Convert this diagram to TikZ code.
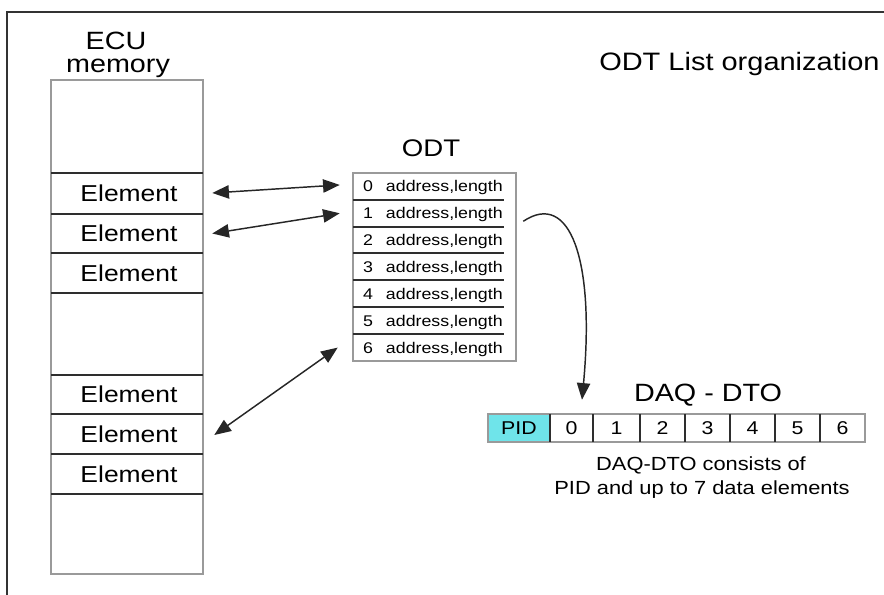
\documentclass[tikz,border=0pt]{standalone}
\usepackage{fontspec}
\setmainfont{Liberation Sans}[FakeStretch=1.15]
\usetikzlibrary{arrows.meta,calc}

\definecolor{framegray}{HTML}{333333}
\definecolor{boxgray}{HTML}{9A9A9A}
\definecolor{rulegray}{HTML}{2E2E2E}
\definecolor{pidcyan}{HTML}{6FE4EA}

\newcommand\pxfont[1]{\fontsize{#1}{#1}\selectfont}

\begin{document}
\begin{tikzpicture}[x=0.75pt,y=-0.75pt,
  outerbox/.style={draw=boxgray,line width=1.1pt,inner sep=0pt},
  divider/.style={draw=rulegray,line width=1.2pt},
  elemcell/.style={minimum width=114pt,minimum height=30pt,inner sep=0pt,
    text height=12.35pt,text depth=0pt,font=\pxfont{17.25pt}},
  odtrow/.style={minimum width=122.25pt,minimum height=20.14pt,inner sep=0pt,
    text height=8.3pt,text depth=0pt,font=\pxfont{11.6pt}},
  daqcell/.style={minimum width=32.25pt,minimum height=21pt,inner sep=0pt,
    text height=9.95pt,text depth=0pt,font=\pxfont{13.9pt}},
  conn/.style={draw=black!85,line width=1.1pt},
  tip/.tip={Triangle[length=12.5pt,width=10pt]}
]
\useasboundingbox (0,0) rectangle (884,595);

% outer frame (only its top and left edges lie inside the page)
\draw[framegray,line width=1.8pt] (7,610) -- (7,12) -- (900,12);

% title
\node[anchor=base west,inner sep=0pt,font=\pxfont{18.9pt}] (title) at (599,70.7) {ODT List organization};

% ECU memory column
\node[anchor=base,inner sep=0pt,font=\pxfont{18.75pt}] (ecuA) at (116,50) {ECU};
\node[anchor=base,inner sep=0pt,font=\pxfont{18.75pt}] (ecuB) at (118,73) {memory};
\node[outerbox,minimum width=114pt,minimum height=370.5pt] (ecu) at (127,327) {};
\foreach \y in {173,214,253,293,375,414,454,494}
  \draw[divider] (51,\y) -- (203,\y);
\node[elemcell] (e1) at (129,193.5) {Element};
\node[elemcell] (e2) at (129,233.5) {Element};
\node[elemcell] (e3) at (129,273) {Element};
\node[elemcell] (e4) at (129,394.5) {Element};
\node[elemcell] (e5) at (129,434) {Element};
\node[elemcell] (e6) at (129,474) {Element};

% ODT table
\node[anchor=base,inner sep=0pt,font=\pxfont{18pt}] (odtlabel) at (431,157) {ODT};
\node[outerbox,minimum width=122.25pt,minimum height=141pt] (odt) at (434.5,267) {};
\foreach \y in {200,227,253,280,307,334}
  \draw[divider] (353,\y) -- (504,\y);
\foreach \i in {0,...,6}
  \node[odtrow] (o\i) at (434.5,{186.43+26.857*\i})
    {\makebox[122.25pt]{\hspace{7.5pt}\i\hfill address,length\hspace{10pt}}};

% DAQ - DTO packet
\node[anchor=base,inner sep=0pt,font=\pxfont{18.75pt}] (daqlabel) at (708,401) {DAQ - DTO};
\node[outerbox,minimum width=282.75pt,minimum height=21pt] (daq) at (676.5,428) {};
\node[outerbox,fill=pidcyan,minimum width=46.5pt,minimum height=21pt,
  text height=9.95pt,text depth=0pt,font=\pxfont{13.9pt}] (pid) at (519,428) {PID};
\foreach \x in {550,593,640,685,730,775,820}
  \draw[divider] (\x,414) -- (\x,442);
\foreach \i/\x in {0/571.5,1/616.5,2/662.5,3/707.5,4/752.5,5/797.5,6/842.5}
  \node[daqcell] (d\i) at (\x,428) {\i};
\node[anchor=base,inner sep=0pt,font=\pxfont{14.25pt}] (noteA) at (701,470.5) {DAQ-DTO consists of};
\node[anchor=base,inner sep=0pt,font=\pxfont{14.25pt}] (noteB) at (702,494) {PID and up to 7 data elements};

% connectors
\draw[conn,{tip}-{tip}] ($(e1.east)+(7,-0.5)$) -- ($(o0.west)+(-13,-1.5)$);
\draw[conn,{tip}-{tip}] ($(e2.east)+(7,0)$) -- ($(o1.west)+(-13,0)$);
\draw[conn,{tip}-{tip}] ($(e5.east)+(9,1)$) -- ($(o6.west)+(-15,0)$);
\draw[conn,-{tip}] ($(o1.east)+(7,8)$) .. controls (570,190) and (595,260) .. ($(d0.north)+(10.5,-14)$);
\end{tikzpicture}
\end{document}
